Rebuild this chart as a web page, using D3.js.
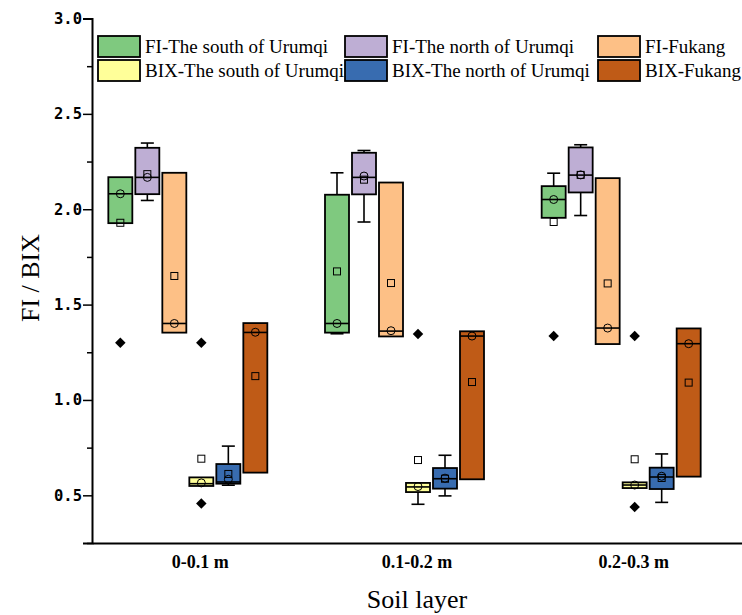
<!DOCTYPE html>
<html>
<head>
<meta charset="utf-8">
<script src="https://cdn.jsdelivr.net/npm/d3@7"></script>
<style>
  body { margin: 0; background: #fff; }
  svg { display: block; }
</style>
</head>
<body>
<svg id="chart" width="742" height="615"></svg>
<script>
// soil layers along the x axis
var layers = ["0-0.1 m", "0.1-0.2 m", "0.2-0.3 m"];
var seriesNames = [
  "FI-The south of Urumqi", "FI-The north of Urumqi", "FI-Fukang",
  "BIX-The south of Urumqi", "BIX-The north of Urumqi", "BIX-Fukang"
];
var yTicks = [0.5, 1.0, 1.5, 2.0, 2.5, 3.0];
var yMinorTicks = [0.25, 0.75, 1.25, 1.75, 2.25, 2.75];

// one row per series, one value per layer
var q1Vals = [
  [1.927, 1.353, 1.955],
  [2.079, 2.078, 2.088],
  [1.353, 1.333, 1.293],
  [0.549, 0.517, 0.538],
  [0.561, 0.535, 0.533],
  [0.619, 0.584, 0.598]
];
var medianVals = [
  [2.081, 1.401, 2.051],
  [2.167, 2.167, 2.179],
  [1.401, 1.361, 1.377],
  [0.561, 0.544, 0.554],
  [0.570, 0.587, 0.596],
  [1.354, 1.335, 1.295]
];
var q3Vals = [
  [2.168, 2.076, 2.121],
  [2.322, 2.296, 2.324],
  [2.191, 2.140, 2.163],
  [0.594, 0.565, 0.568],
  [0.664, 0.643, 0.645],
  [1.403, 1.360, 1.375]
];
var whiskerLow = [
  [1.927, 1.347, 1.955],
  [2.046, 1.933, 1.967],
  [1.353, 1.333, 1.293],
  [0.549, 0.453, 0.538],
  [0.553, 0.497, 0.463],
  [0.619, 0.584, 0.598]
];
var whiskerHigh = [
  [2.168, 2.191, 2.189],
  [2.347, 2.308, 2.338],
  [2.191, 2.140, 2.163],
  [0.594, 0.565, 0.568],
  [0.758, 0.710, 0.717],
  [1.403, 1.360, 1.375]
];
var meanVals = [
  [1.929, 1.674, 1.933],
  [2.184, 2.155, 2.180],
  [1.650, 1.613, 1.611],
  [0.692, 0.685, 0.689],
  [0.612, 0.587, 0.591],
  [1.125, 1.094, 1.091]
];
var circleVals = [
  [2.081, 1.401, 2.051],
  [2.167, 2.174, 2.180],
  [1.401, 1.363, 1.377],
  [0.565, 0.546, 0.554],
  [0.584, 0.590, 0.600],
  [1.355, 1.335, 1.295]
];
var outlierVals = [
  [[1.30], [], [1.335]],
  [[], [], []],
  [[], [], []],
  [[1.30, 0.457], [1.346], [1.335, 0.439]],
  [[], [], []],
  [[], [], []]
];

var colors = [0, 1, 2, 3, 4, 6].map(function(i) { return d3.schemeAccent[i]; });

var svg = d3.select("#chart");
var plotL = 92, plotR = 742, plotT = 18.5, plotB = 543;

var x = d3.scaleBand().domain(layers).range([plotL, plotR]);
var slot = d3.scaleLinear().domain([0, 5]).range([-80, 55]);
var y = d3.scaleLinear().domain([0.25, 3.0]).range([plotB, plotT]);
var boxW = 24, capW = 13;

// flatten into box records
var boxes = [];
seriesNames.forEach(function(name, s) {
  layers.forEach(function(layer, l) {
    boxes.push({
      s: s, layer: layer,
      cx: x(layer) + x.bandwidth() / 2 + slot(s),
      q1: q1Vals[s][l], med: medianVals[s][l], q3: q3Vals[s][l],
      lo: whiskerLow[s][l], hi: whiskerHigh[s][l],
      mean: meanVals[s][l], circ: circleVals[s][l],
      out: outlierVals[s][l]
    });
  });
});

var g = svg.append("g");

// whiskers
var wh = g.selectAll("g.whisk").data(boxes).enter().append("g").attr("class", "whisk")
  .attr("stroke", "#000").attr("stroke-width", 1.6);
wh.filter(function(d) { return d.hi > d.q3; }).each(function(d) {
  var el = d3.select(this);
  el.append("line").attr("x1", d.cx).attr("x2", d.cx).attr("y1", y(d.q3)).attr("y2", y(d.hi));
  el.append("line").attr("x1", d.cx - capW / 2).attr("x2", d.cx + capW / 2).attr("y1", y(d.hi)).attr("y2", y(d.hi));
});
wh.filter(function(d) { return d.lo < d.q1; }).each(function(d) {
  var el = d3.select(this);
  el.append("line").attr("x1", d.cx).attr("x2", d.cx).attr("y1", y(d.q1)).attr("y2", y(d.lo));
  el.append("line").attr("x1", d.cx - capW / 2).attr("x2", d.cx + capW / 2).attr("y1", y(d.lo)).attr("y2", y(d.lo));
});

// boxes
g.selectAll("rect.box").data(boxes).enter().append("rect").attr("class", "box")
  .attr("x", function(d) { return d.cx - boxW / 2; })
  .attr("y", function(d) { return y(d.q3); })
  .attr("width", boxW)
  .attr("height", function(d) { return y(d.q1) - y(d.q3); })
  .attr("fill", function(d) { return colors[d.s]; })
  .attr("stroke", "#000").attr("stroke-width", 1.8);

// median lines
g.selectAll("line.med").data(boxes).enter().append("line").attr("class", "med")
  .attr("x1", function(d) { return d.cx - boxW / 2; })
  .attr("x2", function(d) { return d.cx + boxW / 2; })
  .attr("y1", function(d) { return y(d.med); })
  .attr("y2", function(d) { return y(d.med); })
  .attr("stroke", "#000").attr("stroke-width", 1.6);

// circle markers
g.selectAll("circle.pt").data(boxes).enter().append("circle").attr("class", "pt")
  .attr("cx", function(d) { return d.cx; })
  .attr("cy", function(d) { return y(d.circ); })
  .attr("r", 4)
  .attr("fill", "none").attr("stroke", "#000").attr("stroke-width", 1);

// mean squares
g.selectAll("rect.mean").data(boxes).enter().append("rect").attr("class", "mean")
  .attr("x", function(d) { return d.cx - 3.5; })
  .attr("y", function(d) { return y(d.mean) - 3.5; })
  .attr("width", 7).attr("height", 7)
  .attr("fill", "none").attr("stroke", "#000").attr("stroke-width", 1);

// outliers as filled diamonds
var outs = [];
boxes.forEach(function(d) { d.out.forEach(function(v) { outs.push({cx: d.cx, v: v}); }); });
g.selectAll("path.out").data(outs).enter().append("path").attr("class", "out")
  .attr("d", d3.symbol().type(d3.symbolDiamond2).size(70))
  .attr("transform", function(d) { return "translate(" + d.cx + "," + y(d.v) + ")"; })
  .attr("fill", "#000");

// axes
var yAxis = svg.append("g").attr("transform", "translate(" + plotL + ",0)")
  .call(d3.axisLeft(y).tickValues(yTicks).tickSize(9).tickPadding(1)
    .tickFormat(d3.format(".1f")));
yAxis.select(".domain").attr("stroke-width", 2);
yAxis.selectAll(".tick line").attr("stroke-width", 1.5);
yAxis.selectAll("text").attr("font-family", "DejaVu Sans Mono, monospace")
  .attr("font-weight", "bold").attr("font-size", 15.5).attr("fill", "#000");

var yMinor = svg.append("g").attr("transform", "translate(" + plotL + ",0)")
  .call(d3.axisLeft(y).tickValues(yMinorTicks).tickSize(5).tickFormat(""));
yMinor.select(".domain").remove();
yMinor.selectAll(".tick line").attr("stroke-width", 1.5);

var xAxis = svg.append("g").attr("transform", "translate(0," + plotB + ")")
  .call(d3.axisBottom(x).tickSize(0).tickPadding(12));
xAxis.select(".domain").attr("stroke-width", 2);
xAxis.selectAll("text").attr("font-family", "Liberation Serif, serif")
  .attr("font-weight", "bold").attr("font-size", 18).attr("fill", "#000");

// axis titles
svg.append("text").attr("x", (plotL + plotR) / 2).attr("y", 608)
  .attr("text-anchor", "middle").attr("font-family", "Liberation Serif, serif")
  .attr("font-size", 26).text("Soil layer");
svg.append("text").attr("transform", "translate(39,278) rotate(-90)")
  .attr("text-anchor", "middle").attr("font-family", "Liberation Serif, serif")
  .attr("font-size", 26).text("FI / BIX");

// legend, 3 columns x 2 rows
var legX = [98, 345, 598], legY = [36, 60];
var leg = svg.append("g").selectAll("g").data(seriesNames).enter().append("g")
  .attr("transform", function(d, i) {
    return "translate(" + legX[i % 3] + "," + legY[Math.floor(i / 3)] + ")";
  });
leg.append("rect").attr("width", 42).attr("height", 21)
  .attr("fill", function(d, i) { return colors[i]; })
  .attr("stroke", "#000").attr("stroke-width", 1.8);
leg.append("text").attr("x", 47).attr("y", 17)
  .attr("font-family", "Liberation Serif, serif").attr("font-size", 19)
  .text(function(d) { return d; });
</script>
</body>
</html>
